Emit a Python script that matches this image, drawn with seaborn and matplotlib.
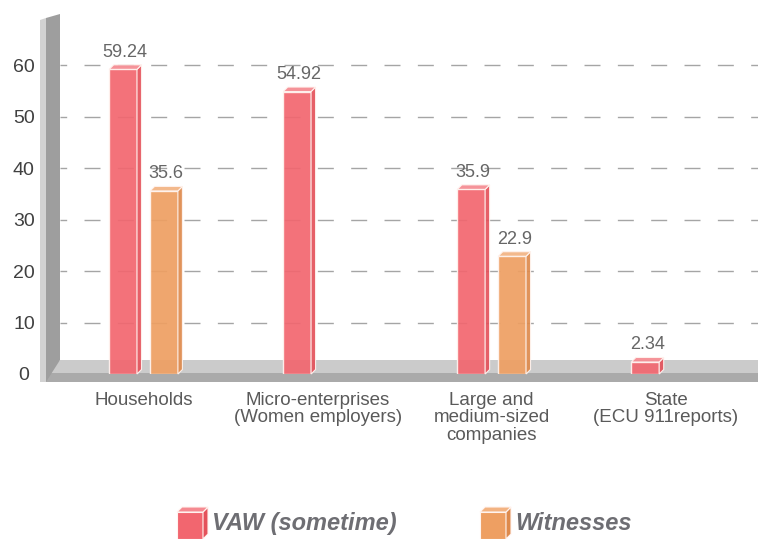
import numpy as np
import pandas as pd
import matplotlib
matplotlib.use('Agg')
import matplotlib.pyplot as plt
from matplotlib.patches import Polygon
from matplotlib.transforms import IdentityTransform
import seaborn as sns

sns.set_theme(style='white')
plt.rcParams['font.family'] = ['Liberation Sans', 'DejaVu Sans']

categories = ['Households', 'Micro-enterprises\n(Women employers)',
              'Large and\nmedium-sized\ncompanies', 'State\n(ECU 911reports)']
series = ['VAW (sometime)', 'Witnesses']
vaw = [59.24, 54.92, 35.9, 2.34]
witnesses = [35.6, np.nan, 22.9, np.nan]
yticks = [0, 10, 20, 30, 40, 50, 60]

# front, side, top colours per series
palette = {'VAW (sometime)': ('#f2666f', '#e4525b', '#f58a91'),
           'Witnesses': ('#ee9f62', '#de8a4c', '#f3b382')}

df = pd.DataFrame({'category': categories * 2,
                   'series': [series[0]] * 4 + [series[1]] * 4,
                   'value': vaw + witnesses})

W, H = 758, 539
fig = plt.figure(figsize=(W / 100, H / 100), dpi=100)
ax = fig.add_axes([60 / W, (H - 374) / H, (W - 60) / W, (374 - 14) / H])

sns.barplot(data=df, x='category', y='value', hue='series', order=categories,
            hue_order=series, palette={k: v[0] for k, v in palette.items()},
            saturation=1, width=0.47, gap=0.32, legend=False, ax=ax)

ax.set_xlim(-0.48, 3.53)
ax.set_ylim(0, 70)
ax.set_yticks(yticks)
ax.set_xlabel('')
ax.set_ylabel('')
ax.set_axisbelow(True)
ax.yaxis.grid(True, color='#a5a5a5', linestyle=(6.7, (11.5, 12.5)), linewidth=1.0)
ax.xaxis.grid(False)
for s in ax.spines.values():
    s.set_visible(False)
ax.tick_params(axis='y', length=0, pad=26, labelsize=14, labelcolor='#404040')
ax.tick_params(axis='x', length=0, pad=13, labelsize=13.5, labelcolor='#5a5a5a')
for t in ax.get_yticklabels():
    t.set_horizontalalignment('center')
for t in ax.get_xticklabels():
    t.set_linespacing(1.02)

# 3D-looking wall and floor, in pixel coordinates
ident = IdentityTransform()
(xl, yb), (xr, yt) = ax.transAxes.transform([(0, 0), (1, 1)])
D = 14
floor_top = [(xl - D, yb + 1), (xl, yb + D), (xr, yb + D), (xr, yb + 1)]
floor_front = [(xl - D, yb + 1), (xr, yb + 1), (xr, yb - 8), (xl - D, yb - 8)]
wall_side = [(xl - D, yb - 8), (xl - D, yt - 4), (xl, yt), (xl, yb + D)]
wall_edge = [(xl - D - 6, yb - 8), (xl - D - 6, yt - 6), (xl - D, yt - 4), (xl - D, yb - 8)]
for pts, c in [(floor_top, '#cbcbcb'), (floor_front, '#aaaaaa'),
               (wall_side, '#9e9e9e'), (wall_edge, '#d2d2d2')]:
    ax.add_patch(Polygon(pts, closed=True, transform=ident, facecolor=c,
                         edgecolor='none', clip_on=False, zorder=1))

# bars: front face from seaborn, then side and top faces
d = 4.5
for name, cont in zip(series, ax.containers):
    front, side, top = palette[name]
    for bar in cont:
        h = bar.get_height()
        if not np.isfinite(h) or h <= 0:
            continue
        bar.set_alpha(0.92)
        bar.set_edgecolor('#fff4f0')
        bar.set_linewidth(1.0)
        bar.set_zorder(3)
        x = bar.get_x()
        w = bar.get_width()
        (x0, y0), (x1, y1) = ax.transData.transform([(x, 0), (x + w, h)])
        side_pts = [(x1, y0), (x1 + d, y0 + d), (x1 + d, y1 + d), (x1, y1)]
        top_pts = [(x0, y1), (x0 + d, y1 + d), (x1 + d, y1 + d), (x1, y1)]
        for pts, c in [(side_pts, side), (top_pts, top)]:
            ax.add_patch(Polygon(pts, closed=True, transform=ident, facecolor=c,
                                 edgecolor='#fff4f0', linewidth=0.8, alpha=0.92,
                                 clip_on=False, zorder=3))
        ax.annotate(f'{h:g}', (x + w / 2, h), xytext=(1.5, 9),
                    textcoords='offset points', ha='center', va='baseline',
                    fontsize=13, color='#666666', zorder=4)

# legend with little cubes
lx = [177, 480]
for name, x0 in zip(series, lx):
    front, side, top = palette[name]
    y0 = H - 539
    y1 = H - 512
    cw, cd = 26, 5
    cube = [([(x0, y0), (x0 + cw, y0), (x0 + cw, y1), (x0, y1)], front),
            ([(x0 + cw, y0), (x0 + cw + cd, y0 + cd), (x0 + cw + cd, y1 + cd), (x0 + cw, y1)], side),
            ([(x0, y1), (x0 + cd, y1 + cd), (x0 + cw + cd, y1 + cd), (x0 + cw, y1)], top)]
    for pts, c in cube:
        fig.patches.append(Polygon(pts, closed=True, transform=ident, facecolor=c,
                                   edgecolor='#fff4f0', linewidth=0.8, figure=fig))
    fig.text((x0 + cw + cd + 4) / W, (H - 530) / H, name, fontsize=17,
             fontweight='bold', fontstyle='italic', color='#6e6e73',
             ha='left', va='baseline')

fig.savefig('out.png', dpi=100)
